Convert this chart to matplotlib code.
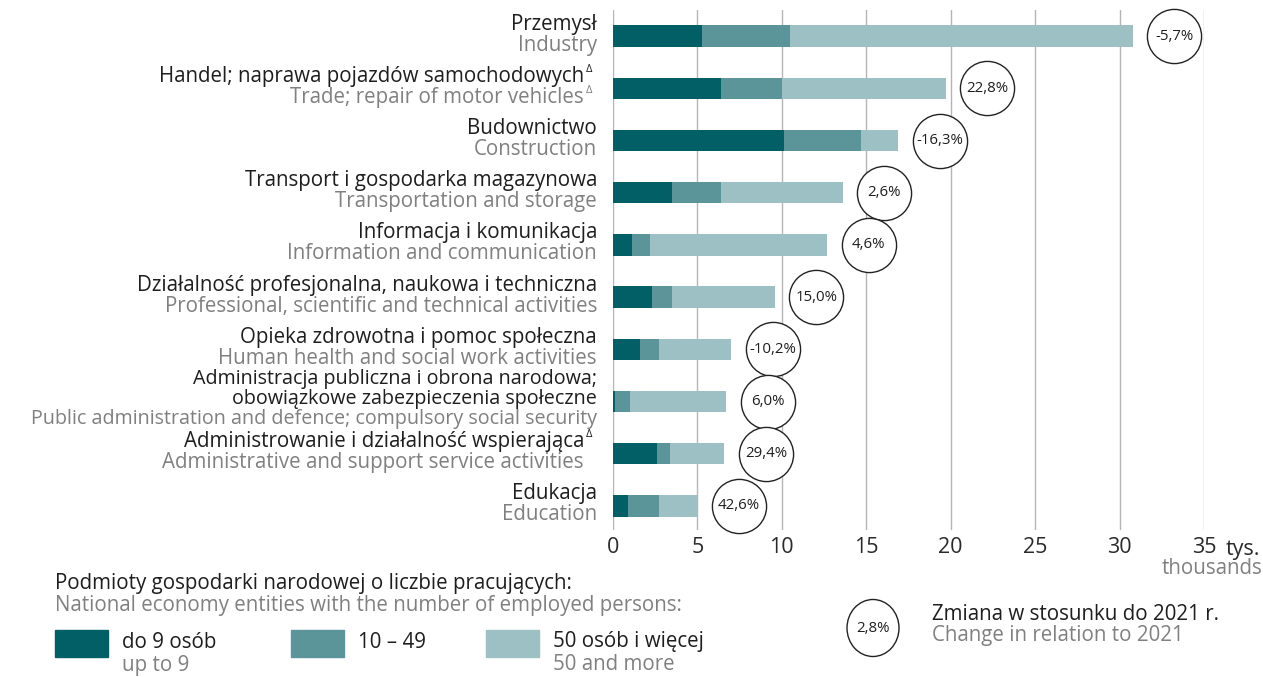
import matplotlib
matplotlib.use('Agg')
import matplotlib.pyplot as plt
import matplotlib.transforms as mtransforms
from matplotlib.patches import Rectangle, Ellipse

plt.rcParams['font.family'] = ['Open Sans', 'DejaVu Sans']

# dane (tys.)
labels_pl = ['Przemysł',
             'Handel; naprawa pojazdów samochodowych',
             'Budownictwo',
             'Transport i gospodarka magazynowa',
             'Informacja i komunikacja',
             'Działalność profesjonalna, naukowa i techniczna',
             'Opieka zdrowotna i pomoc społeczna',
             'Administracja publiczna i obrona narodowa;\nobowiązkowe zabezpieczenia społeczne',
             'Administrowanie i działalność wspierająca',
             'Edukacja']
labels_en = ['Industry',
             'Trade; repair of motor vehicles',
             'Construction',
             'Transportation and storage',
             'Information and communication',
             'Professional, scientific and technical activities',
             'Human health and social work activities',
             'Public administration and defence; compulsory social security',
             'Administrative and support service activities',
             'Education']
delta_pl = [False, True, False, False, False, False, False, False, True, False]
delta_en = [False, True, False, False, False, False, False, False, False, False]

up_to_9 = [5.3, 6.4, 10.1, 3.5, 1.1, 2.3, 1.6, 0.1, 2.6, 0.9]
from_10_49 = [5.2, 3.6, 4.6, 2.9, 1.1, 1.2, 1.1, 0.9, 0.8, 1.8]
from_50 = [20.3, 9.7, 2.2, 7.2, 10.5, 6.1, 4.3, 5.7, 3.2, 2.3]
change = [-5.7, 22.8, -16.3, 2.6, 4.6, 15.0, -10.2, 6.0, 29.4, 42.6]

series_pl = ['do 9 osób', '10 – 49', '50 osób i więcej']
series_en = ['up to 9', '', '50 and more']
colors = ['#035f66', '#5b9599', '#9cc0c3']

BLACK = '#1e1e1e'
GRAY = '#808080'
FS = 14.8
W, H = 1263, 677

fig = plt.figure(figsize=(W / 100, H / 100), dpi=100)
ax = fig.add_axes([613 / W, 1 - 530 / H, (1204 - 613) / W, 520 / H])

y = list(range(len(labels_pl)))
left = [0] * len(y)
for vals, c in zip([up_to_9, from_10_49, from_50], colors):
    ax.barh(y, vals, left=left, height=0.41, color=c, zorder=3)
    left = [a + b for a, b in zip(left, vals)]

# kółka ze zmianą
for i, (tot, ch) in enumerate(zip(left, change)):
    xc = tot + 2.45
    ax.scatter([xc], [i], s=39 ** 2, facecolor='white', edgecolor='#222222',
               linewidth=1.0, zorder=4, clip_on=False)
    txt = ('%.1f%%' % ch).replace('.', ',')
    ax.text(xc, i, txt, ha='center', va='center', fontsize=10.8,
            color=BLACK, zorder=5)

ax.set_xlim(0, 35)
ax.set_ylim(len(y) - 0.54, -0.5)
ax.set_xticks(range(0, 36, 5))
ax.tick_params(axis='x', length=0, pad=5, labelsize=15.5, labelcolor='#2a2a2a')
ax.set_yticks([])
for s in ax.spines.values():
    s.set_visible(False)
for xv in range(0, 36, 5):
    ax.axvline(xv, color='#b5b5b5', lw=1, zorder=1)

fig.text(1243 / W, 1 - 549 / H, 'tys.', ha='center', va='center', fontsize=15.5, color='#2a2a2a')
fig.text(1262 / W, 1 - 569 / H, 'thousands', ha='right', va='center', fontsize=FS, color=GRAY)

# etykiety kategorii
base = mtransforms.blended_transform_factory(fig.transFigure, ax.transData)
for i in y:
    pl_lines = labels_pl[i].split('\n')
    lines = [(t, BLACK, delta_pl[i]) for t in pl_lines] + [(labels_en[i], GRAY, delta_en[i])]
    n = len(lines)
    sp = 21 if n == 2 else 20
    fs = FS if n == 2 else 14.2
    shift = -1.5 if n == 2 else -3
    for k, (t, c, d) in enumerate(lines):
        dy = (k - (n - 1) / 2) * sp + shift
        xr = 597
        if d or (i == 8 and c == GRAY):
            xr = 584
        tr = mtransforms.offset_copy(base, fig=fig, x=0, y=-dy, units='dots')
        ax.text(xr / W, i, t, transform=tr, ha='right', va='center',
                fontsize=fs, color=c)
        if d:
            tr2 = mtransforms.offset_copy(base, fig=fig, x=0, y=-dy + 7, units='dots')
            ax.text((xr + 2) / W, i, 'Δ', transform=tr2, ha='left', va='center',
                    fontsize=8, color=c)

# legenda
fig.text(55 / W, 1 - 583 / H, 'Podmioty gospodarki narodowej o liczbie pracujących:',
         ha='left', va='center', fontsize=FS, color=BLACK)
fig.text(55 / W, 1 - 606 / H, 'National economy entities with the number of employed persons:',
         ha='left', va='center', fontsize=FS, color=GRAY)
sw_x = [55, 291, 486]
for sx, c, tp, te in zip(sw_x, colors, series_pl, series_en):
    fig.add_artist(Rectangle((sx / W, 1 - 657 / H), 53 / W, 27 / H,
                             transform=fig.transFigure, color=c))
    fig.text((sx + 67) / W, 1 - 642 / H, tp, ha='left', va='center', fontsize=FS, color=BLACK)
    if te:
        fig.text((sx + 67) / W, 1 - 665 / H, te, ha='left', va='center', fontsize=FS, color=GRAY)

fig.add_artist(Ellipse((873 / 100, (H - 628) / 100), 0.52, 0.57,
                       transform=fig.dpi_scale_trans, facecolor='white',
                       edgecolor='#222222', lw=1.0))
fig.text(873 / W, 1 - 628 / H, '2,8%', ha='center', va='center', fontsize=10.8, color=BLACK)
fig.text(932 / W, 1 - 614 / H, 'Zmiana w stosunku do 2021 r.', ha='left', va='center',
         fontsize=FS, color=BLACK)
fig.text(932 / W, 1 - 636 / H, 'Change in relation to 2021', ha='left', va='center',
         fontsize=FS, color=GRAY)

fig.savefig('out.png', dpi=100)
